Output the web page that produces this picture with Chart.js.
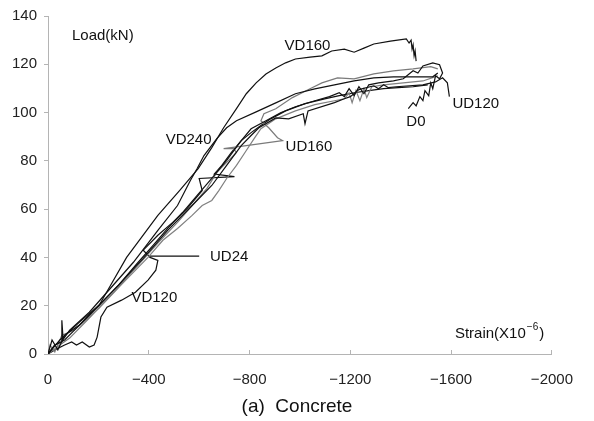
<!DOCTYPE html>
<html>
<head>
<meta charset="utf-8">
<script src="https://cdn.jsdelivr.net/npm/chart.js@4.4.0/dist/chart.umd.min.js"></script>
<style>
  html, body { margin: 0; padding: 0; background: #fff; }
  canvas { display: block; }
</style>
</head>
<body>
<canvas id="grafico" width="594" height="421"></canvas>
<script>
// === DATOS: [strain (x10^-6), load (kN)] ===
const VD160 = [[0,0],[-47,5.8],[-125,13.2],[-203,20.2],[-312,40],[-436,57.4],[-522,67.7],[-596,76.8],[-650,85.5],[-697,93.7],[-748,101.6],[-787,107.8],[-826,112.3],[-865,116],[-904,118.5],[-943,120.6],[-982,122.2],[-1040,123],[-1087,123.5],[-1126,125.5],[-1176,126.3],[-1215,125],[-1254,126.7],[-1293,128.4],[-1359,129.6],[-1422,130.5],[-1433,128.8],[-1441,130],[-1445,126.3],[-1449,128],[-1453,123.5],[-1457,125.5],[-1461,121.3]];

const VD240 = [[0,0],[-27,3.7],[-55,5],[-55,14],[-60,6],[-86,9.9],[-164,17.3],[-241,26.4],[-339,38],[-436,51.2],[-514,61.5],[-565,71.9],[-592,76.8],[-619,82.2],[-643,85.5],[-670,89.2],[-709,93.7],[-748,96.6],[-826,100.3],[-904,104],[-982,107.8],[-1059,109.8],[-1137,111.5],[-1215,113.1],[-1293,114.4],[-1371,114.8],[-1449,114.8],[-1527,114.8],[-1547,116.4]];

const D0 = [[0,0],[-16,5.8],[-39,1.7],[-66,7.8],[-125,12],[-203,20.2],[-280,28.5],[-358,38],[-417,45],[-475,52],[-534,58.6],[-592,65.7],[-650,72.7],[-709,80.2],[-767,88.4],[-806,93.3],[-865,96.6],[-923,99.9],[-982,102.4],[-1059,104.9],[-1117,106.6],[-1156,108.2],[-1176,106.6],[-1195,109.9],[-1215,107],[-1234,110.7],[-1254,107.8],[-1273,111.5],[-1312,112.3],[-1371,113.1],[-1410,114],[-1449,117.3],[-1468,116.4],[-1488,119.3],[-1527,120.6],[-1554,119.8],[-1566,116.4],[-1554,114],[-1538,115.2],[-1527,109.9],[-1519,112.3],[-1511,107],[-1496,109.1],[-1488,105],[-1476,106.6],[-1461,102.8],[-1449,104.1],[-1430,101.6]];

const UD120 = [[0,0],[-27,3.7],[-66,5.8],[-105,9.9],[-183,18.2],[-280,28.5],[-378,39.6],[-475,51.2],[-572,61.5],[-650,69.8],[-709,78.1],[-767,86.3],[-806,90.5],[-837,93.7],[-904,97.8],[-955,97.4],[-1013,99.5],[-1020,95.4],[-1032,100.7],[-1137,104.1],[-1176,105.7],[-1200,106.6],[-1234,109.5],[-1293,111.1],[-1312,109.9],[-1332,111.5],[-1351,110.3],[-1382,110.7],[-1488,111.5],[-1538,112.7],[-1566,114.4],[-1585,112.3],[-1593,106.6]];

const UD160 = [[0,0],[-47,3.7],[-86,6.6],[-164,14.9],[-261,25.6],[-358,36.8],[-436,45.9],[-514,54.5],[-572,61.5],[-631,68.6],[-670,75.2],[-717,80.2],[-748,83.5],[-736,85.1],[-697,85.1],[-787,86.3],[-931,88.4],[-911,89.6],[-876,93.7],[-845,96.6],[-857,99.5],[-904,101.6],[-970,106.2],[-1040,109.9],[-1087,112.3],[-1149,114.4],[-1215,114],[-1293,116],[-1371,117.3],[-1449,118.1],[-1519,119],[-1547,118.1]];

const UD24 = [[0,0],[-8,3.7],[-27,0.8],[-55,7.8],[-105,9.9],[-203,19],[-300,29.7],[-397,40],[-456,47.1],[-514,52],[-572,57.4],[-612,61.5],[-650,63.6],[-678,67.7],[-709,72.7],[-748,78.1],[-787,84.3],[-818,89.2],[-845,93.3],[-904,97.4],[-982,100.7],[-1059,103.3],[-1137,104.9],[-1176,105.7],[-1195,108.2],[-1207,104.1],[-1222,109.1],[-1238,104.9],[-1254,109.9],[-1265,106.2],[-1285,110.7],[-1332,111.5],[-1410,112.3],[-1488,113.1],[-1547,115.2]];

const VD120 = [[0,0],[-27,1.7],[-66,3.7],[-94,5],[-113,3.7],[-136,5],[-164,2.9],[-183,3.7],[-195,7],[-210,15.3],[-234,19.4],[-292,22.3],[-347,25.6],[-397,30.6],[-428,34.7],[-436,38.8],[-405,40],[-378,43],[-436,49.2],[-495,54.5],[-553,60.3],[-612,67.7],[-600,72.7],[-740,73.5],[-660,74.5],[-690,78.1],[-728,83.5],[-767,88.4],[-806,91.7],[-845,94.6],[-884,97.4],[-943,100.7],[-1020,103.7],[-1098,105.7],[-1156,107],[-1215,108.2],[-1273,109.1],[-1332,109.9],[-1390,110.3],[-1449,110.7],[-1507,111.5]];

const series = ['VD160', 'VD240', 'D0', 'UD120', 'UD160', 'UD24', 'VD120'];
const valores = [VD160, VD240, D0, UD120, UD160, UD24, VD120];
const colores = ['#111', '#111', '#111', '#111', '#7a7a7a', '#808080', '#111'];

// etiquetas de cada curva (en coordenadas de datos)
const etiquetas = [
    { texto: 'VD160', x: -939, y: 127.6 },
    { texto: 'VD240', x: -467, y: 88.8 },
    { texto: 'UD160', x: -943, y: 85.9 },
    { texto: 'UD24', x: -643, y: 40.1 },
    { texto: 'VD120', x: -331, y: 23.1 },
    { texto: 'D0', x: -1422, y: 96.2 },
    { texto: 'UD120', x: -1605, y: 103.7 }
];

const FUENTE = '"Liberation Sans", Arial, sans-serif';
const minus = v => (v < 0 ? '\u2212' + Math.abs(v) : String(v));

// textos sueltos: ejes, rotulos y titulo inferior
const textosPlugin = {
    id: 'textos',
    afterDraw(chart) {
        const ctx = chart.ctx;
        const sx = chart.scales.x, sy = chart.scales.y;
        const area = chart.chartArea;
        ctx.save();
        ctx.fillStyle = '#111';
        ctx.textBaseline = 'middle';
        ctx.textAlign = 'left';
        ctx.font = '15px ' + FUENTE;

        etiquetas.forEach(e => {
            ctx.fillText(e.texto, sx.getPixelForValue(e.x), sy.getPixelForValue(e.y));
        });

        // linea guia de UD24
        ctx.strokeStyle = '#111';
        ctx.lineWidth = 1.2;
        ctx.beginPath();
        ctx.moveTo(sx.getPixelForValue(-405), sy.getPixelForValue(40.5));
        ctx.lineTo(sx.getPixelForValue(-600), sy.getPixelForValue(40.5));
        ctx.stroke();

        // titulos de ejes
        ctx.fillText('Load(kN)', area.left + 24, area.top + 20);

        let x = area.right - 97;
        const yS = area.bottom - 20;
        ctx.fillText('Strain(X10', x, yS);
        x += ctx.measureText('Strain(X10').width;
        ctx.font = '10px ' + FUENTE;
        ctx.fillText('\u22126', x + 1, yS - 7);
        x += ctx.measureText('\u22126').width + 2;
        ctx.font = '15px ' + FUENTE;
        ctx.fillText(')', x, yS);

        // titulo inferior
        ctx.font = '19px ' + FUENTE;
        ctx.textAlign = 'center';
        ctx.fillText('(a)  Concrete', chart.width / 2, 407);
        ctx.restore();
    }
};

const ctxGrafico = document.getElementById('grafico').getContext('2d');
new Chart(ctxGrafico, {
    type: 'scatter',
    data: {
        datasets: series.map((nombre, i) => ({
            label: nombre,
            data: valores[i].map(p => ({ x: p[0], y: p[1] })),
            showLine: true,
            borderColor: colores[i],
            borderWidth: 1.2,
            pointRadius: 0,
            tension: 0,
            fill: false
        }))
    },
    options: {
        responsive: false,
        animation: false,
        events: [],
        layout: { padding: { top: 15, right: 32, left: 0, bottom: 0 } },
        plugins: {
            legend: { display: false },
            tooltip: { enabled: false }
        },
        scales: {
            x: {
                type: 'linear',
                reverse: true,
                min: -2000,
                max: 0,
                afterFit(scale) { scale.height = 67; },
                border: { color: '#b4b4b4', width: 1 },
                grid: { drawOnChartArea: false, color: '#b4b4b4', tickLength: -4 },
                ticks: {
                    stepSize: 400,
                    padding: 21,
                    color: '#222',
                    font: { size: 15, family: FUENTE },
                    maxRotation: 0,
                    callback: v => minus(v)
                }
            },
            y: {
                min: 0,
                max: 140,
                afterFit(scale) { scale.width = 48; },
                border: { color: '#b4b4b4', width: 1 },
                grid: { drawOnChartArea: false, color: '#b4b4b4', tickLength: 4 },
                ticks: {
                    stepSize: 20,
                    padding: 7,
                    color: '#222',
                    font: { size: 15, family: FUENTE }
                }
            }
        }
    },
    plugins: [textosPlugin]
});
</script>
</body>
</html>
